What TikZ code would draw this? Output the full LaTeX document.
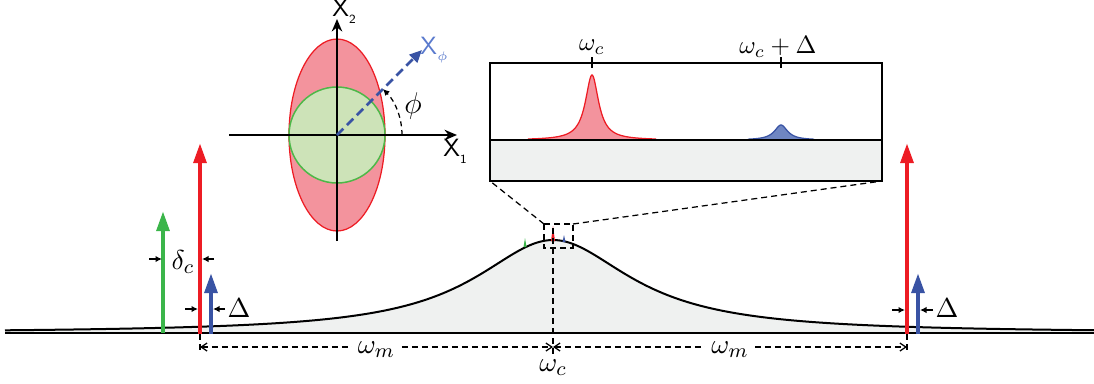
\documentclass[tikz,border=0pt]{standalone}
\usetikzlibrary{arrows.meta}
\definecolor{cred}{HTML}{ED1C24}
\definecolor{cpink}{HTML}{F3939D}
\definecolor{cgreen}{HTML}{3BB54A}
\definecolor{cgfill}{HTML}{CDE3B8}
\definecolor{cgline}{HTML}{4DB848}
\definecolor{cblue}{HTML}{3953A4}
\definecolor{cbfill}{HTML}{6F86C2}
\definecolor{cblab}{HTML}{5A7ACD}
\definecolor{bgfill}{HTML}{EFF1F0}
\tikzset{
  bigarrow/.style={line width=1.7pt,-{Triangle[length=8pt,width=5pt]}},
  smallarrow/.style={line width=0.6pt,-{Latex[length=2.6pt,width=2.6pt]}},
  dimline/.style={line width=0.5pt,dash pattern=on 2.4pt off 1.6pt,{Straight Barb[length=2.4pt,width=3.2pt]}-{Straight Barb[length=2.4pt,width=3.2pt]}},
  dashedtick/.style={line width=0.5pt,dash pattern=on 2.4pt off 1.6pt},
  axis/.style={line width=0.7pt,-{Stealth[length=5pt,width=4.2pt]}},
  lab/.style={inner sep=1pt,font=\fontsize{11}{13}\selectfont},
  ilab/.style={inner sep=1pt,font=\fontsize{10}{12}\selectfont},
}
\begin{document}
\begin{tikzpicture}[x=0.4pt,y=-0.4pt]
\useasboundingbox (0,0) rectangle (1094,383);

% broad cavity Lorentzian
\fill[bgfill] (5,333) -- plot[domain=5:1094,samples=300] (\x,{333-93/(1+((\x-553)/95)^2)}) -- (1094,333) -- cycle;
\draw[line width=0.8pt] plot[domain=5:1094,samples=300] (\x,{333-93/(1+((\x-553)/95)^2)});
\coordinate (b0) at (5,333);
\coordinate (b1) at (1094,333);
\draw[line width=0.8pt] (b0) -- (b1);

% tiny spikes near the top
\fill[cgreen] (523.5,247) -- (525,238) -- (526.5,247) -- cycle;
\fill[cred] (551,241) -- (553,226) -- (555,241) -- cycle;
\fill[cblue] (562.5,242) -- (564,235) -- (565.5,242) -- cycle;

% coordinates of arrows
\coordinate (g0) at (163,333); \coordinate (g1) at (163,211);
\coordinate (r0) at (200,334); \coordinate (r1) at (200,143);
\coordinate (u0) at (211,334); \coordinate (u1) at (211,273);
\coordinate (R0) at (907,334); \coordinate (R1) at (907,143);
\coordinate (U0) at (918,334); \coordinate (U1) at (918,273);

\draw[bigarrow,cgreen] (g0) -- (g1);
\draw[bigarrow,cred] (r0) -- (r1);
\draw[bigarrow,cblue] (u0) -- (u1);
\draw[bigarrow,cred] (R0) -- (R1);
\draw[bigarrow,cblue] (U0) -- (U1);

% delta_c markers
\coordinate (dc1a) at (149,259); \coordinate (dc1b) at (162,259);
\coordinate (dc2a) at (214,259); \coordinate (dc2b) at (202,259);
\draw[smallarrow] (dc1a) -- (dc1b);
\draw[smallarrow] (dc2a) -- (dc2b);
\node[lab] (dclab) at (183,262) {$\delta_c$};

% Delta markers left
\coordinate (dl1a) at (185,309); \coordinate (dl1b) at (198,309);
\coordinate (dl2a) at (225,309); \coordinate (dl2b) at (213,309);
\draw[smallarrow] (dl1a) -- (dl1b);
\draw[smallarrow] (dl2a) -- (dl2b);
\node[lab] (dllab) at (239,308) {$\Delta$};

% Delta markers right
\coordinate (dr1a) at (892,310); \coordinate (dr1b) at (905,310);
\coordinate (dr2a) at (933,310); \coordinate (dr2b) at (920,310);
\draw[smallarrow] (dr1a) -- (dr1b);
\draw[smallarrow] (dr2a) -- (dr2b);
\node[lab] (drlab) at (947,308) {$\Delta$};

% dimension lines
\coordinate (tL0) at (200,334); \coordinate (tL1) at (200,354);
\coordinate (tC0) at (553,228); \coordinate (tC1) at (553,357);
\coordinate (tR0) at (907,334); \coordinate (tR1) at (907,354);
\draw[dashedtick] (tL0) -- (tL1);
\draw[dashedtick] (tC0) -- (tC1);
\draw[dashedtick] (tR0) -- (tR1);
\coordinate (mL) at (200,347); \coordinate (mC) at (553,347); \coordinate (mR) at (907,347);
\draw[dimline] (mL) -- node[lab,fill=white,inner xsep=2.5pt,inner ysep=0pt,yshift=-1pt] (wm1) {$\omega_m$} (mC);
\draw[dimline] (mC) -- node[lab,fill=white,inner xsep=2.5pt,inner ysep=0pt,yshift=-1pt] (wm2) {$\omega_m$} (mR);
\node[lab] (wclab) at (553,368) {$\omega_c$};

% zoom box
\coordinate (zb1) at (544,224); \coordinate (zb2) at (573,248);
\draw[dashedtick] (zb1) rectangle (zb2);
\coordinate (zbtr) at (573,224);

% inset
\coordinate (i1) at (490,63); \coordinate (i2) at (882,181);
\coordinate (ibl) at (490,181); \coordinate (ibr) at (882,181);
\coordinate (iml) at (490,140); \coordinate (imr) at (882,140);
\fill[bgfill] (iml) rectangle (ibr);
\fill[cpink] plot[domain=528:656,samples=200] (\x,{140-65/(1+((\x-592)/8)^2)}) -- cycle;
\draw[cred,line width=0.5pt] plot[domain=528:656,samples=200] (\x,{140-65/(1+((\x-592)/8)^2)});
\fill[cbfill] plot[domain=748:814,samples=150] (\x,{140-15/(1+((\x-781)/8)^2)}) -- cycle;
\draw[cblue,line width=0.5pt] plot[domain=748:814,samples=150] (\x,{140-15/(1+((\x-781)/8)^2)});
\draw[line width=0.5pt] (iml) -- (imr);
\draw[line width=0.6pt] (i1) rectangle (i2);
\coordinate (k1a) at (592,57); \coordinate (k1b) at (592,68);
\coordinate (k2a) at (781,57); \coordinate (k2b) at (781,68);
\draw[line width=0.6pt] (k1a) -- (k1b);
\draw[line width=0.6pt] (k2a) -- (k2b);
\node[ilab] (ilab1) at (592,47) {$\omega_c$};
\node[ilab] (ilab2) at (778,47) {$\omega_c+\Delta$};
\draw[dashedtick] (zb1) -- (ibl);
\draw[dashedtick] (zbtr) -- (ibr);

% phase space
\coordinate (o) at (337,135);
\draw[cred,fill=cpink,line width=0.5pt] (o) ellipse [x radius=48, y radius=96];
\draw[cgline,fill=cgfill,line width=0.6pt] (o) circle [radius=48];
\coordinate (ax0) at (229,135); \coordinate (ax1) at (457,135);
\coordinate (ay0) at (337,241); \coordinate (ay1) at (337,19);
\draw[axis] (ax0) -- (ax1);
\draw[axis] (ay0) -- (ay1);
\node[inner sep=1pt] (x1lab) at (455,151) {\sffamily X\raisebox{-0.6ex}{\tiny 1}};
\node[inner sep=1pt] (x2lab) at (344,11) {\sffamily X\raisebox{-0.6ex}{\tiny 2}};
\coordinate (xp) at (422,50);
\draw[cblue,line width=1.1pt,dash pattern=on 3.6pt off 2pt,-{Triangle[length=5pt,width=4.4pt]}] (o) -- (xp);
\node[inner sep=1pt,text=cblab] (xplab) at (434,50) {\sffamily X\raisebox{-0.6ex}{\tiny$\phi$}};
\coordinate (arc0) at (402,135);
\draw[line width=0.5pt,dash pattern=on 2pt off 1.5pt,-{Latex[length=2.6pt,width=2.6pt]}] (arc0) arc[start angle=0,end angle=-45,radius=65];
\node[inner sep=1pt,font=\fontsize{12}{14}\selectfont] (philab) at (413,106) {$\phi$};
\end{tikzpicture}
\end{document}
